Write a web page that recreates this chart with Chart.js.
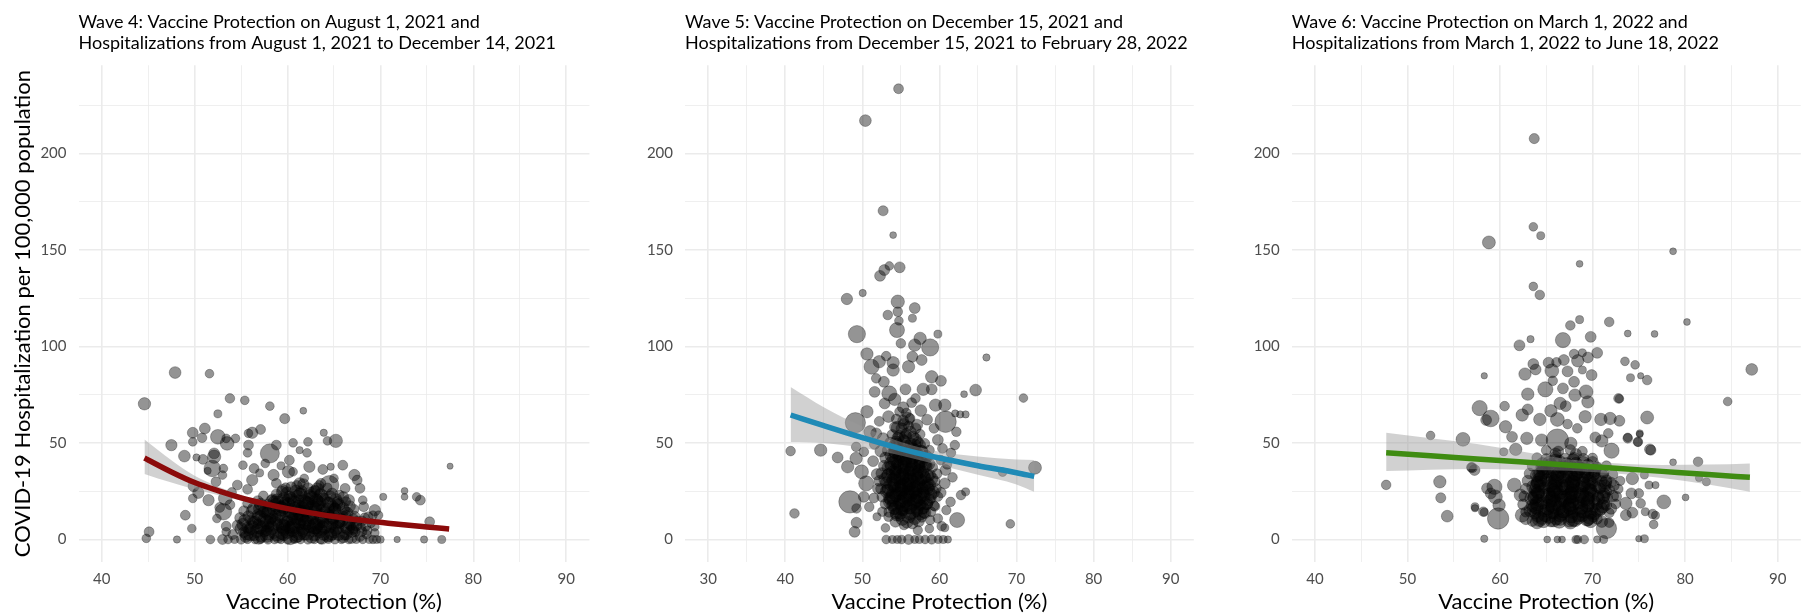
<!DOCTYPE html>
<html>
<head>
<meta charset="utf-8">
<title>Vaccine protection and COVID-19 hospitalizations</title>
<script src="https://cdn.jsdelivr.net/npm/chart.js@4.4.0/dist/chart.umd.min.js"></script>
<style>
  html, body { margin: 0; padding: 0; background: #fff; width: 1809px; height: 613px; overflow: hidden; }
  .panel { position: absolute; top: 0; }
</style>
</head>
<body>
<canvas id="wave4" class="panel" width="600" height="613" style="left:0px"></canvas>
<canvas id="wave5" class="panel" width="566" height="613" style="left:640px"></canvas>
<canvas id="wave6" class="panel" width="566" height="613" style="left:1247px"></canvas>

<script>
// Valeurs : [protection %, hospitalisations / 100 000, population (milliers)]

const wave4Title = ['Wave 4: Vaccine Protection on August 1, 2021 and',
  'Hospitalizations from August 1, 2021 to December 14, 2021'];
const wave5Title = ['Wave 5: Vaccine Protection on December 15, 2021 and',
  'Hospitalizations from December 15, 2021 to February 28, 2022'];
const wave6Title = ['Wave 6: Vaccine Protection on March 1, 2022 and',
  'Hospitalizations from March 1, 2022 to June 18, 2022'];

const xTitle = 'Vaccine Protection (%)';
const yTitle = 'COVID-19 Hospitalization per 100,000 population';

const xTicks4 = [40, 45, 50, 55, 60, 65, 70, 75, 80, 85, 90];
const xTicks5 = [30, 35, 40, 45, 50, 55, 60, 65, 70, 75, 80, 85, 90];
const xTicks6 = [40, 45, 50, 55, 60, 65, 70, 75, 80, 85, 90];
const yTicks = [0, 25, 50, 75, 100, 125, 150, 175, 200, 225];

const wave4Points = [
  [44.6,70.3,25],[47.9,86.5,22],[51.6,85.9,10],[53.8,73.1,13],[55.4,72.1,10],[52.5,65.1,8],[58.1,69.1,10],[59.7,62.6,15],[61.7,66.7,5],
  [47.5,48.9,20],[48.9,43.2,22],[49.8,55.3,18],[51.1,57.5,18],[52.5,53.2,38],[50.8,52.7,13],[49.8,50.6,10],[53.5,49.8,32],[53.4,52.4,10],[54.4,52.4,10],
  [50.2,42.5,6],[50.9,41.5,14],[52.1,44.6,18],[52.1,42.9,30],[51.9,36.8,50],[53.1,36.8,10],[51.4,35.6,6],[53.0,33.4,10],[52.3,29.9,14],[49.9,27.7,20],
  [50.4,24.2,20],[49.8,21.3,10],[51.5,20.4,20],[52.7,16.6,14],[53.1,14.4,50],[53.3,21.3,32],[49.0,12.6,14],[52.4,10.9,10],[49.7,5.7,10],[45.1,4.0,14],
  [44.8,0.6,10],[48.1,0,6],[51.7,0,10],[53.0,0,14],[53.4,6.9,14],[53.4,4.0,10],
  [55.8,55.0,10],[56.2,55.3,20],[57.1,57.0,14],[58.1,44.6,70],[58.8,48.9,14],[55.8,48.9,14],[55.7,44.9,10],[60.6,50.1,10],[61.3,46.3,6],[62.1,44.9,10],
  [62.2,50.6,10],[63.9,55.3,6],[64.3,51.1,10],[65.2,51.1,30],[60.2,41.1,14],[60.1,35.1,25],[62.35,37.7,20],[63.8,36.3,14],[64.65,37.7,6],[65.95,38.5,14],
  [67.2,33.4,20],[67.5,30.8,14],[67.8,26.5,14],[64.5,28.2,70],[65.0,31.7,10],[61.8,31.7,10],
  [70.3,22.1,6],[72.6,22.1,5],[72.6,25.2,5],[73.9,22.1,10],[74.3,20.4,14],[75.3,9.2,14],[77.5,38.0,3.5],[76.6,0,8],[74.7,0,6],[71.8,0,4],
  [69.4,15.2,20],[69.2,12.6,10],[69.8,12.6,10],[68.7,11.8,14],[68.2,17.0,14],[68.1,20.4,10],[69.4,6.6,10],
  [55.2,38.5,10],[56.4,36.8,14],[57.6,39.4,10],[58.5,33.4,20],[56.2,30.8,20],[58.8,29.1,14],[54.6,28.2,14],[55.7,26.0,14],[59.5,25.6,20],
  [60.6,35.1,10],[61.3,29.1,20],[63.6,29.1,14],[66.2,26.5,14],[66.6,20.4,20],[57.0,34.5,8],[59.3,38.2,8],[54.0,24.5,12],[53.8,18.0,14],
  [53.6,0,10],[54.3,0,8],[55.0,0,12],[55.7,0,9],[56.5,0,10],[57.1,0,8],[57.9,0,12],[58.6,0,10],[59.3,0,9],[60.0,0,12],[60.7,0,8],[61.4,0,10],
  [62.2,0,12],[62.9,0,9],[63.6,0,10],[64.4,0,8],[65.1,0,11],[65.8,0,9],[66.6,0,10],[67.4,0,8],[68.1,0,9],[68.8,0,8],[69.2,0,9],[69.6,0,8],[70.0,0,7],
  [54.1,2.6,14],[55.3,3.8,18],[56.4,2.1,16],[57.5,4.3,20],[58.5,3.0,15],[59.6,2.4,22],[60.7,3.9,18],[61.8,2.8,25],[62.8,4.1,16],[63.9,2.5,20],
  [65.0,3.6,18],[66.1,2.2,15],[67.3,4.0,14],[68.5,2.7,12],[69.4,3.4,10],
  [54.6,7.4,16],[55.7,6.2,20],[56.8,8.1,14],[57.9,6.8,22],[59.0,7.5,18],[60.2,6.4,25],[61.3,8.0,20],[62.4,6.9,28],[63.4,7.7,18],[64.6,6.5,22],
  [65.7,8.2,16],[66.8,7.0,14],[67.9,6.3,12],[69.0,8.4,10],
  [54.9,11.2,18],[56.0,10.3,14],[57.1,12.0,22],[58.2,10.6,18],[59.3,11.8,25],[60.5,10.2,20],[61.6,12.3,28],[62.7,10.9,22],[63.7,11.6,25],
  [64.9,10.4,18],[66.0,12.1,16],[67.1,10.8,14],[68.3,11.4,12],
  [55.3,14.8,16],[56.3,16.0,20],[57.4,14.3,18],[58.5,15.6,25],[59.7,14.6,20],[60.8,16.2,30],[61.9,14.9,22],[63.0,15.8,25],[64.0,14.4,18],
  [65.1,16.1,20],[66.2,15.0,14],[67.2,15.7,12],
  [55.7,18.7,14],[56.8,19.9,18],[57.9,18.2,16],[59.0,19.6,20],[60.1,18.4,25],[61.2,20.1,22],[62.2,18.9,28],[63.2,20.3,20],[64.3,19.1,22],
  [65.4,18.5,16],[66.3,19.8,12],
  [57.4,22.6,14],[58.8,23.5,16],[60.2,22.3,20],[61.3,24.0,18],[62.4,22.8,22],[63.5,23.9,16],[64.6,22.5,18],[65.6,23.2,12],
  [59.8,26.8,14],[61.0,27.9,16],[62.2,26.5,20],[63.4,28.0,14],[64.3,26.9,12],
  [55.5,1.4,20],[57.2,1.8,25],[59.0,1.2,22],[60.9,1.6,30],[62.6,1.3,25],[64.3,1.7,22],[66.0,1.1,18],[67.8,1.5,14],
  [55.9,5.0,22],[57.7,4.7,18],[59.6,5.3,28],[61.6,4.8,25],[63.3,5.4,30],[65.2,4.9,20],[67.0,5.2,16],[68.6,4.6,12],
  [56.3,9.1,20],[58.1,8.7,25],[60.0,9.3,22],[61.9,8.8,30],[63.8,9.2,25],[65.6,8.9,18],[67.5,9.4,14],
  [56.8,12.9,18],[58.7,12.4,22],[60.6,13.1,28],[62.5,12.6,25],[64.4,13.0,20],[66.3,12.5,16],
  [57.4,17.1,20],[59.3,16.8,22],[61.2,17.4,25],[63.1,16.9,22],[64.9,17.3,18],
  [58.4,21.0,16],[60.4,21.4,20],[62.3,20.8,22],[64.0,21.3,16],
  [61.5,25.2,18],[63.0,25.6,14],
  [56.0,2.8,30],[57.8,2.2,35],[59.4,3.4,30],[61.1,2.6,40],[62.9,3.0,35],[64.6,2.4,30],[66.3,3.1,25],
  [55.4,9.8,25],[57.0,6.5,35],[58.8,10.2,30],[60.6,7.0,40],[62.3,10.5,35],[64.0,6.8,35],[65.8,10.0,30],[67.4,7.3,20],
  [56.2,14.6,25],[57.9,13.5,30],[59.6,16.9,35],[61.4,13.8,40],[63.2,17.5,35],[65.0,14.0,30],[66.7,17.2,20],
  [58.3,19.8,25],[60.0,23.8,30],[61.8,19.6,35],[63.6,22.9,30],[65.2,20.6,25],
  [61.7,28.6,20],[63.2,26.2,25],[60.4,27.1,18],
  [55.0,5.5,25],[56.7,4.4,30],[58.3,6.0,35],[60.0,4.2,35],[61.7,6.4,40],[63.5,4.6,35],[65.3,6.1,30],[66.9,4.3,25],[68.4,6.9,15],
  [55.8,12.0,20],[57.5,10.1,30],[59.1,13.4,30],[60.9,11.4,35],[62.8,13.9,35],[64.6,11.1,30],[66.4,13.6,25],[68.0,9.6,15],
  [57.1,18.2,25],[58.9,20.5,25],[60.7,18.9,35],[62.6,21.5,30],[64.5,18.4,30],[66.0,22.0,18],
  [59.4,24.6,20],[62.9,24.8,22],[61.1,22.1,30],
  [55.6,3.2,30],[57.3,5.8,35],[58.9,2.9,35],[60.5,5.6,40],[62.1,3.5,40],[63.8,5.9,35],[65.5,3.0,30],[67.1,6.1,20],
  [56.5,8.6,30],[58.2,11.8,35],[59.9,8.1,40],[61.5,11.0,40],[63.2,8.4,40],[64.9,11.7,35],[66.6,8.8,25],
  [57.0,15.9,25],[58.7,17.8,30],[60.3,15.0,35],[62.0,16.8,35],[63.8,14.9,35],[65.5,17.9,25],
  [59.6,21.2,25],[61.4,23.2,30],[63.1,20.3,30],[64.8,23.7,20],
  [55.2,7.8,25],[57.8,8.9,35],[59.5,6.9,35],[61.2,9.6,40],[62.9,6.6,40],[64.7,8.6,35],[66.3,6.4,25],[68.0,4.1,15],
  [58.0,15.3,30],[59.8,18.7,30],[61.6,16.0,35],[63.4,19.0,30],[65.1,15.6,25],
  [56.9,1.0,30],[60.3,1.0,35],[63.7,1.0,30],[66.9,1.0,22],
  [56.2,6.0,35],[57.9,3.6,40],[59.6,6.4,40],[61.3,4.0,45],[63.0,6.9,45],[64.8,3.7,40],[66.5,5.8,30],
  [56.9,10.9,35],[58.6,8.1,40],[60.3,11.6,45],[62.0,8.9,45],[63.7,12.0,40],[65.4,9.4,35],[67.2,11.8,20],
  [57.6,14.8,30],[59.3,15.9,40],[61.0,14.2,45],[62.7,16.4,40],[64.3,15.2,35],[66.0,16.0,25],
  [58.6,19.2,30],[60.2,20.2,35],[62.0,18.5,40],[63.8,20.7,30],[65.4,19.4,20],
  [60.9,25.0,25],[62.5,23.9,25]
];

const wave5Points = [
  [54.7,233.5,14],[50.4,217.0,22],[52.7,170.3,15],[54.0,157.7,5],[52.3,136.6,18],[52.85,139.6,18],[53.5,141.7,10],[54.85,141.0,18],[48.0,124.6,20],
  [50.05,127.7,6],[54.6,123.2,30],[54.6,118.0,13],[56.8,119.9,18],[53.3,116.3,13],[56.5,114.6,8],[54.75,113.3,10],[54.5,108.5,40],[49.3,106.4,55],
  [59.8,106.4,8],[55.0,101.6,13],[57.5,104.2,25],[58.8,99.5,55],[56.8,100.7,25],[66.1,94.3,6],[64.7,77.4,22],[63.2,75.3,5],[70.9,73.3,10],
  [62.05,65.3,6],[62.7,64.8,6],[63.4,64.8,6],
  [50.6,96.1,25],[51.2,89.5,40],[52.2,92.1,25],[54.0,91.6,25],[56.0,89.5,25],[53.1,95.0,13],[56.5,94.7,18],[57.7,93.0,18],[51.8,83.5,13],
  [52.8,81.7,18],[54.0,87.8,25],[59.0,84.3,25],[60.2,82.2,18],[57.9,77.8,25],[59.0,77.8,18],[55.6,77.8,18],[51.6,76.5,18],[53.5,75.7,40],
  [56.9,73.1,13],[59.5,69.6,25],[60.7,69.6,25],
  [60.8,61.0,90],[49.1,60.5,80],[50.6,66.2,25],[51.0,55.8,25],[51.8,55.0,18],[62.2,55.8,13],[62.0,48.9,13],[61.5,44.9,13],
  [40.7,45.8,13],[44.6,46.3,25],[46.8,42.5,18],[49.2,48.0,13],[50.2,45.4,13],[49.2,42.0,25],[48.1,37.7,25],[49.9,35.1,33],[50.5,29.1,40],
  [48.4,19.5,100],[49.25,16.1,13],[50.2,22.1,18],[50.9,16.9,13],[51.9,11.8,8],[52.6,14.4,13],[49.25,8.7,18],[49.0,4.0,18],[41.2,13.5,13],
  [62.3,10.1,40],[62.8,23.0,13],[63.4,24.7,8],[61.45,19.5,13],[61.7,32.2,13],[60.8,36.0,18],[60.2,41.1,13],[60.7,29.1,18],[59.8,10.9,13],
  [60.3,6.9,13],[58.8,10.1,13],[57.7,11.4,13],[56.5,8.3,18],[55.4,7.5,13],[54.3,9.2,18],[53.4,11.8,13],[54.85,11.8,13],[69.2,8.1,10],
  [68.2,34.9,10],[72.4,37.2,28],[60.7,6.1,8],
  [53.1,0,10],[53.9,0,8],[54.55,0,8],[55.1,0,10],[56.0,0,14],[56.8,0,8],[57.4,0,8],[58.15,0,10],[59.0,0,12],[59.85,0,8],[60.5,0,8],[61.1,0,6],
  [52.9,70.5,18],[54.2,72.6,25],[55.3,68.4,20],[56.4,70.9,14],[57.6,66.8,22],[58.4,62.1,18],[53.4,63.7,22],[55.9,62.5,28],[57.1,59.4,20],
  [52.2,61.2,14],[54.6,57.8,30],[59.3,57.6,14],[52.7,52.4,20],[59.8,51.6,18],[51.6,49.4,16],[60.4,47.2,14],[51.4,40.6,18],[51.9,33.8,20],
  [52.0,26.4,16],[51.5,21.5,14],[60.2,24.3,16],[59.4,17.2,14],[52.4,45.8,22],[61.0,38.8,12],[60.9,15.2,12],[53.0,6.0,10],[57.2,4.8,12],[58.7,5.6,10],
  [53.5,14.3,18],[54.4,13.6,22],[55.3,14.8,16],[56.2,13.2,25],[57.1,14.6,20],[58.0,13.9,18],[58.9,14.4,14],
  [53.0,18.4,16],[53.9,17.6,20],[54.8,18.9,25],[55.7,17.3,22],[56.6,18.6,28],[57.5,17.9,20],[58.4,18.3,18],[59.3,17.5,14],
  [52.6,22.2,18],[53.5,21.5,22],[54.4,22.8,28],[55.3,21.4,25],[56.2,22.6,30],[57.1,21.8,22],[58.0,22.9,25],[58.9,21.6,18],[59.8,22.3,14],
  [52.4,26.3,16],[53.3,25.6,25],[54.2,26.9,22],[55.1,25.4,30],[56.0,26.7,28],[56.9,25.8,25],[57.8,26.5,22],[58.7,25.7,20],[59.6,26.4,14],
  [52.2,30.4,18],[53.1,29.5,22],[54.0,30.9,28],[54.9,29.6,25],[55.8,30.6,35],[56.7,29.8,25],[57.6,30.8,22],[58.5,29.4,20],[59.4,30.2,16],
  [52.5,34.3,20],[53.4,33.6,25],[54.3,34.8,22],[55.2,33.5,30],[56.1,34.7,25],[57.0,33.8,28],[57.9,34.9,20],[58.8,33.4,18],[59.7,34.1,14],
  [52.8,38.2,18],[53.7,37.6,22],[54.6,38.9,25],[55.5,37.4,28],[56.4,38.6,22],[57.3,37.8,25],[58.2,38.8,18],[59.1,37.5,16],
  [53.0,42.4,20],[53.9,41.6,18],[54.8,42.8,25],[55.7,41.5,22],[56.6,42.7,28],[57.5,41.8,20],[58.4,42.3,16],
  [53.3,46.2,18],[54.2,45.5,25],[55.1,46.8,22],[56.0,45.4,30],[56.9,46.6,20],[57.8,45.8,18],[58.7,46.3,14],
  [53.6,50.3,16],[54.5,49.5,22],[55.4,50.8,25],[56.3,49.6,20],[57.2,50.5,18],[58.1,49.8,14],
  [53.9,54.2,18],[54.8,53.6,22],[55.7,54.9,16],[56.6,53.4,20],[57.5,54.5,14],
  [54.2,58.3,16],[55.1,57.5,20],[56.0,58.8,14],[56.9,57.6,18],
  [54.4,62.4,14],[55.3,61.6,18],[56.2,62.7,14],[54.8,66.2,12],[55.7,65.5,14],
  [54.1,16.0,22],[55.1,15.7,25],[56.1,16.3,20],[57.1,15.9,25],[58.0,16.2,18],
  [54.0,20.1,25],[55.0,19.8,28],[56.0,20.4,25],[57.0,20.0,30],[58.0,20.3,20],
  [53.9,24.2,22],[54.9,23.8,30],[55.9,24.4,28],[56.9,24.0,25],[57.9,24.3,22],
  [54.1,28.1,25],[55.1,27.8,28],[56.1,28.3,30],[57.1,27.9,25],[58.1,28.2,20],
  [54.2,32.2,22],[55.2,31.8,30],[56.2,32.3,25],[57.2,31.9,28],[58.2,32.1,18],
  [54.3,36.1,25],[55.3,35.8,22],[56.3,36.3,28],[57.3,35.9,20],
  [54.4,40.2,20],[55.4,39.8,25],[56.4,40.3,22],[57.4,39.9,18],
  [54.6,44.1,18],[55.6,43.9,22],[56.6,44.3,20],
  [54.5,13.0,30],[56.0,12.2,35],[57.5,13.5,30],
  [53.6,19.5,30],[55.2,18.2,40],[56.8,19.8,40],[58.3,18.9,30],
  [53.2,25.0,30],[54.8,26.2,40],[56.4,25.1,45],[58.0,26.8,35],[59.2,24.5,25],
  [53.0,31.2,30],[54.6,32.8,40],[56.2,30.2,45],[57.8,32.6,40],[59.0,31.5,25],
  [53.4,37.0,30],[55.0,38.1,40],[56.6,36.8,40],[58.2,38.3,30],
  [53.8,43.6,30],[55.4,42.2,35],[57.0,44.1,35],[58.3,43.2,22],
  [54.1,48.4,25],[55.8,48.0,30],[57.4,48.9,25],
  [54.6,52.6,22],[56.2,55.6,25],[55.4,59.8,20],
  [55.2,10.5,25],[56.8,10.9,25],
  [54.4,16.4,35],[56.1,17.0,40],[57.7,16.6,35],
  [54.0,22.3,40],[55.7,23.0,45],[57.4,22.5,40],[58.9,23.4,25],
  [53.8,28.6,35],[55.5,28.0,45],[57.2,28.9,40],[58.7,28.2,25],
  [54.0,34.6,35],[55.7,34.0,45],[57.4,35.2,35],
  [54.3,40.3,35],[56.0,40.8,40],[57.6,40.0,30],
  [54.9,46.0,30],[56.5,46.8,30],
  [55.3,51.4,25],[56.9,52.0,22],
  [54.9,14.2,35],[56.6,14.6,35],[58.1,14.0,25],
  [53.8,20.8,35],[55.5,20.5,45],[57.2,21.3,45],[58.6,20.6,25],
  [53.5,26.8,35],[55.2,26.5,45],[56.9,26.1,50],[58.4,27.0,30],
  [53.4,33.0,35],[55.1,32.6,45],[56.8,33.4,45],[58.4,33.0,30],
  [53.8,39.3,35],[55.5,39.0,40],[57.2,39.6,40],[58.6,39.2,25],
  [54.3,45.2,30],[56.0,44.6,35],[57.6,45.5,30],
  [55.6,53.3,25],[56.8,49.0,25],[54.4,50.8,20],
  [55.8,8.9,22],[57.3,9.6,22]
];

const wave6Points = [
  [63.7,207.7,15],[63.6,162.0,10],[64.4,157.4,8],[58.8,153.9,28],[78.7,149.3,5],[68.6,142.8,5],[63.6,131.1,10],[64.3,126.7,13],[68.6,113.9,8],
  [67.6,110.9,13],[71.8,112.7,13],[80.2,112.7,5],[63.3,103.8,6],[66.8,103.3,41],[69.8,105.0,18],[73.8,106.7,5],[76.7,106.5,5],[62.1,100.6,18],
  [87.2,88.1,22],[84.6,71.5,10],[72.9,72.9,10],[75.9,63.2,28],[75.9,82.6,13],[74.6,90.5,10],[73.5,92.3,10],[74.1,83.8,8],[75.2,84.8,4],
  [58.3,84.8,4],[57.8,68.1,41],[59.0,62.7,51],[58.5,61.9,18],[52.5,53.9,10],[56.0,51.9,33],[47.7,28.3,13],[53.5,29.9,25],[53.6,21.6,15],
  [54.3,12.1,22],[57.3,16.2,6],[58.3,14.1,8],[59.8,10.9,90],[57.0,37.2,15],[58.3,0.4,6],[76.3,46.3,15],[75.1,54.5,5],[73.8,52.9,10],
  [74.9,50.5,10],[78.7,40.0,5],[81.4,40.3,13],[81.5,31.9,6],[82.3,29.9,8],[80.05,21.8,5],[77.7,19.5,33],[76.6,7.8,10],[76.8,12.5,8],
  [75.6,0.4,8],[75.0,0.4,4],
  [65.1,0,5],[66.2,0,5],[66.7,0,5],[68.2,0,8],[68.4,0,8],[69.1,0,10],[70.5,0,6],[71.2,0,8],
  [62.7,85.7,25],[63.6,90.9,18],[63.85,88.1,18],[65.25,91.6,18],[66.1,91.8,13],[66.9,93.0,18],[68.0,96.1,13],[68.4,92.6,25],[69.5,94.3,18],
  [70.5,96.7,18],[68.9,96.7,8],[69.9,85.2,18],[65.6,87.4,33],[67.3,87.1,18],[68.9,87.8,8],[64.9,77.8,41],[63.0,75.3,25],[65.7,82.2,13],
  [66.8,78.3,18],[68.0,81.7,18],[68.1,74.8,25],[69.3,76.5,33],[69.5,71.3,25],[67.1,69.1,18],[66.5,70.5,25],[60.5,69.1,13],[62.4,64.5,25],
  [63.0,67.4,18],[64.3,62.2,25],[65.5,66.7,25],[66.2,62.2,33],[67.3,59.8,13],[68.35,57.6,13],[69.2,63.6,25],[70.9,62.2,25],[71.9,62.7,25],
  [72.9,61.5,18],[72.8,73.1,13],[73.8,52.4,13],[74.9,50.6,13],[75.1,55.0,6],[76.2,46.7,18],[72.05,46.0,41],[71.0,51.1,25],[70.3,52.9,18],
  [71.7,55.0,13],[66.2,51.5,100],[67.65,49.8,25],[64.5,51.5,25],[62.9,52.4,25],[61.3,53.2,18],[60.6,58.4,25],[61.7,46.7,25],[60.4,45.4,8],
  [56.9,37.4,13],[57.25,36.0,18],[57.3,17.0,8],[58.2,14.4,13],[59.4,27.3,41],[59.5,22.1,33],[59.9,17.8,25],[59.0,23.9,18],[58.6,26.5,18],
  [75.2,18.7,13],[75.0,23.9,13],[76.1,28.2,8],[76.8,28.2,6],[75.6,33.4,8],[74.3,31.6,25],[74.2,23.9,18],[73.6,18.7,25],[74.3,13.9,18],
  [71.5,5.7,80],[71.8,8.7,13],[73.6,12.6,18],[62.2,23.0,25],[62.4,12.6,33],[62.8,10.9,25],[61.55,28.2,33],[76.5,13.2,13],[75.7,14.4,8],
  [63.5,9.6,18],[64.5,10.8,22],[65.5,9.2,16],[66.5,10.5,25],[67.5,9.4,20],[68.5,10.9,22],[69.5,9.8,18],[70.5,10.6,16],
  [62.8,14.3,16],[63.8,13.6,22],[64.8,14.8,25],[65.8,13.4,20],[66.8,14.6,28],[67.8,13.9,22],[68.8,14.4,25],[69.8,13.5,20],[70.8,14.7,16],[71.8,13.8,14],
  [62.5,18.2,18],[63.5,17.6,25],[64.5,18.8,22],[65.5,17.4,28],[66.5,18.5,25],[67.5,17.8,30],[68.5,18.9,22],[69.5,17.5,25],[70.5,18.3,20],[71.5,17.7,16],[72.5,18.4,14],
  [62.6,22.4,16],[63.6,21.5,22],[64.6,22.8,28],[65.6,21.6,25],[66.6,22.7,30],[67.6,21.8,25],[68.6,22.6,28],[69.6,21.4,22],[70.6,22.5,20],[71.6,21.7,16],[72.6,22.3,14],
  [62.8,26.3,18],[63.8,25.6,25],[64.8,26.8,22],[65.8,25.4,30],[66.8,26.6,28],[67.8,25.7,25],[68.8,26.9,30],[69.8,25.6,22],[70.8,26.4,20],[71.8,25.8,16],[72.8,26.2,12],
  [63.0,30.4,20],[64.0,29.6,22],[65.0,30.8,28],[66.0,29.5,25],[67.0,30.6,30],[68.0,29.8,28],[69.0,30.7,25],[70.0,29.5,20],[71.0,30.3,18],[72.0,29.6,16],[73.0,30.4,12],
  [63.2,34.2,18],[64.2,33.5,25],[65.2,34.8,22],[66.2,33.6,28],[67.2,34.6,25],[68.2,33.7,30],[69.2,34.5,22],[70.2,33.8,20],[71.2,34.4,16],[72.2,33.6,14],
  [63.5,38.1,16],[64.5,37.6,22],[65.5,38.8,25],[66.5,37.4,22],[67.5,38.5,28],[68.5,37.8,20],[69.5,38.6,22],[70.5,37.5,16],[71.5,38.2,14],
  [64.0,42.3,16],[65.0,41.6,20],[66.0,42.7,22],[67.0,41.5,25],[68.0,42.4,18],[69.0,41.7,20],[70.0,42.2,14],
  [65.0,46.2,14],[66.3,45.6,18],[67.6,46.5,16],[68.9,45.7,14],
  [64.1,12.1,25],[65.3,11.8,30],[66.5,12.3,25],[67.7,11.9,28],[68.9,12.2,22],[70.1,11.8,18],
  [64.0,16.1,28],[65.2,15.8,25],[66.4,16.3,30],[67.6,15.9,28],[68.8,16.2,25],[70.0,15.8,20],
  [64.2,20.2,25],[65.4,19.8,30],[66.6,20.3,28],[67.8,19.9,30],[69.0,20.2,25],[70.2,19.8,20],
  [64.1,24.1,28],[65.3,23.8,25],[66.5,24.3,30],[67.7,23.9,28],[68.9,24.2,25],[70.1,23.8,18],
  [64.3,28.2,22],[65.5,27.8,28],[66.7,28.3,25],[67.9,27.9,30],[69.1,28.2,22],[70.3,27.8,18],
  [64.4,32.1,25],[65.6,31.8,22],[66.8,32.3,28],[68.0,31.9,25],[69.2,32.2,20],[70.4,31.8,16],
  [64.6,36.1,20],[65.8,35.8,25],[67.0,36.3,22],[68.2,35.9,25],[69.4,36.1,18],
  [64.0,9.0,30],[65.8,10.2,35],[67.6,9.1,35],[69.4,10.4,30],[71.0,9.3,22],
  [63.3,15.2,30],[65.1,16.8,40],[66.9,15.1,40],[68.7,16.9,40],[70.5,15.3,30],[72.0,16.0,20],
  [63.4,21.2,30],[65.2,22.6,40],[67.0,21.0,45],[68.8,22.8,40],[70.6,21.1,30],[72.2,22.5,20],
  [63.6,27.3,30],[65.4,28.8,40],[67.2,27.0,45],[69.0,28.6,40],[70.8,27.4,30],[72.3,28.0,18],
  [64.0,33.2,30],[65.8,34.6,35],[67.6,33.0,40],[69.4,34.7,35],[71.0,33.4,25],
  [64.6,39.3,25],[66.4,40.2,30],[68.2,39.1,30],[70.0,40.0,22],
  [64.9,12.8,35],[66.7,13.6,35],[68.5,12.9,35],[70.2,13.5,25],
  [64.0,18.6,35],[65.9,19.1,40],[67.7,18.6,45],[69.5,19.3,35],[71.2,18.8,25],
  [64.1,24.9,35],[66.0,25.4,45],[67.9,24.8,45],[69.7,25.3,35],[71.4,24.8,25],
  [64.3,30.8,35],[66.1,31.2,40],[67.9,30.7,40],[69.7,31.3,30],[71.5,30.6,20],
  [65.1,36.9,30],[66.9,37.4,30],[68.7,36.8,30],[70.4,37.2,20],
  [64.7,9.8,35],[66.4,9.5,35],[68.1,10.3,35],[69.8,9.6,30],
  [63.7,15.8,35],[65.6,14.7,40],[67.3,16.4,45],[69.1,14.8,40],[70.9,16.2,30],
  [63.8,21.9,35],[65.7,21.0,45],[67.5,22.3,45],[69.3,21.4,40],[71.1,22.0,30],
  [64.0,27.9,35],[65.9,26.9,45],[67.7,28.2,45],[69.5,27.2,40],[71.3,27.8,25],
  [64.5,33.9,35],[66.3,33.1,40],[68.2,34.2,40],[70.0,33.5,30],
  [65.3,39.7,30],[67.2,39.0,30],[69.0,39.8,25],
  [66.0,44.5,20],[68.2,44.2,20],
  [64.3,10.6,40],[66.1,11.4,40],[67.9,10.7,40],[69.7,11.5,35],
  [63.9,17.1,40],[65.8,17.6,45],[67.6,17.2,50],[69.4,17.8,40],[71.1,17.2,30],
  [64.0,23.0,40],[65.9,23.4,50],[67.7,23.0,50],[69.5,23.5,45],[71.2,23.2,30],
  [64.2,29.3,40],[66.0,29.7,45],[67.8,29.2,45],[69.6,29.8,40],[71.4,29.3,25],
  [64.7,35.2,35],[66.6,35.6,40],[68.4,35.3,35],[70.2,35.5,25],
  [66.0,41.1,25],[67.9,41.3,25]
];

// Courbes ajustées et intervalles de confiance
const wave4FitX  = [44.6, 47.5, 50, 52.5, 55, 57.5, 60, 62.5, 65, 67.5, 70, 72.5, 75, 77.4];
const wave4Fit   = [42.2, 35.0, 29.5, 25.3, 21.6, 18.6, 16.0, 13.8, 11.9, 10.2, 8.9, 7.6, 6.5, 5.5];
const wave4Upper = [51.8, 41.0, 33.0, 27.5, 23.0, 19.5, 16.8, 14.6, 12.6, 11.0, 9.6, 8.4, 7.4, 6.6];
const wave4Lower = [34.0, 29.5, 26.0, 23.0, 20.2, 17.7, 15.2, 13.1, 11.2, 9.5, 8.2, 6.8, 5.6, 4.6];

const wave5FitX  = [40.7, 45, 50, 55, 60, 65, 70, 72.3];
const wave5Fit   = [64.5, 59.0, 52.8, 47.0, 42.2, 38.2, 34.6, 32.7];
const wave5Upper = [79.0, 68.5, 58.5, 50.5, 45.5, 43.0, 41.5, 41.2];
const wave5Lower = [50.5, 50.0, 47.5, 43.5, 38.5, 33.5, 28.5, 24.7];

const wave6FitX  = [47.7, 52.5, 57.5, 62.5, 67.5, 72.5, 77.5, 82.5, 87.0];
const wave6Fit   = [44.9, 43.4, 41.7, 40.1, 38.5, 36.9, 35.3, 33.7, 32.2];
const wave6Upper = [55.3, 52.5, 49.5, 45.5, 41.5, 39.5, 38.6, 38.8, 39.4];
const wave6Lower = [35.5, 36.2, 36.5, 36.2, 35.6, 34.2, 31.9, 28.5, 24.8];

const FONT = 'Lato';
const yMin = -11.7, yMax = 245.7;

function toXY(xs, ys) {
  return xs.map((x, i) => ({ x: x, y: ys[i] }));
}

// rayon de la bulle selon la population
function bubbleRadius(pop) {
  return 1.2 + Math.sqrt(pop);
}

function makePanel(id, cfg) {
  const canvas = document.getElementById(id);
  if (!canvas) {
    console.warn('canvas introuvable', id);
    return;
  }

  const bubbles = cfg.points.map(p => ({ x: p[0], y: p[1], r: bubbleRadius(p[2]) }));

  const curve = {
    pointRadius: 0,
    pointHoverRadius: 0,
    cubicInterpolationMode: 'monotone'
  };

  return new Chart(canvas, {
    type: 'scatter',
    data: {
      datasets: [
        Object.assign({
          type: 'line',
          data: toXY(cfg.fitX, cfg.fit),
          borderColor: cfg.color,
          borderWidth: 5.5,
          borderCapStyle: 'butt',
          fill: false,
          order: 0
        }, curve),
        Object.assign({
          type: 'line',
          data: toXY(cfg.fitX, cfg.upper),
          borderWidth: 0,
          borderColor: 'rgba(0,0,0,0)',
          backgroundColor: 'rgba(153,153,153,0.45)',
          fill: '+1',
          order: 1
        }, curve),
        Object.assign({
          type: 'line',
          data: toXY(cfg.fitX, cfg.lower),
          borderWidth: 0,
          borderColor: 'rgba(0,0,0,0)',
          fill: false,
          order: 1
        }, curve),
        {
          type: 'bubble',
          data: bubbles,
          backgroundColor: 'rgba(0,0,0,0.42)',
          borderColor: 'rgba(0,0,0,0.28)',
          borderWidth: 1,
          hoverRadius: 0,
          order: 2
        }
      ]
    },
    options: {
      responsive: false,
      animation: false,
      events: [],
      layout: { padding: { left: 0, right: cfg.padRight, top: 0, bottom: 0 } },
      plugins: {
        legend: { display: false },
        tooltip: { enabled: false },
        title: {
          display: true,
          text: cfg.title,
          align: 'start',
          fullSize: false,
          color: '#000',
          font: { family: FONT, size: 18, weight: 'normal', lineHeight: 1.145 },
          padding: { top: 12, bottom: 12 }
        }
      },
      scales: {
        x: {
          type: 'linear',
          min: cfg.xMin,
          max: cfg.xMax,
          afterBuildTicks: s => { s.ticks = cfg.xTicks.map(v => ({ value: v })); },
          afterFit: s => { s.height = 50.9; },
          border: { display: false },
          grid: {
            drawTicks: false,
            color: '#ebebeb',
            lineWidth: ctx => (ctx.tick && ctx.tick.value % 10 === 0) ? 1.6 : 0.8
          },
          ticks: {
            autoSkip: false,
            maxRotation: 0,
            padding: 8,
            color: '#4d4d4d',
            font: { family: FONT, size: 15 },
            callback: v => (v % 10 === 0 ? String(v) : '')
          },
          title: {
            display: true,
            text: xTitle,
            color: '#000',
            font: { family: FONT, size: 22, lineHeight: 1 },
            padding: { top: 0, bottom: 0 }
          }
        },
        y: {
          type: 'linear',
          min: yMin,
          max: yMax,
          afterBuildTicks: s => { s.ticks = yTicks.map(v => ({ value: v })); },
          afterFit: s => { s.width = cfg.yAxisWidth; },
          border: { display: false },
          grid: {
            drawTicks: false,
            color: '#ebebeb',
            lineWidth: ctx => (ctx.tick && ctx.tick.value % 50 === 0) ? 1.6 : 0.8
          },
          ticks: {
            autoSkip: false,
            padding: 12,
            color: '#4d4d4d',
            font: { family: FONT, size: 15 },
            callback: v => (v % 50 === 0 ? String(v) : '')
          },
          title: {
            display: cfg.showYTitle,
            text: yTitle,
            color: '#000',
            font: { family: FONT, size: 22, lineHeight: 1 },
            padding: { top: 12, bottom: 0 }
          }
        }
      }
    }
  });
}

makePanel('wave4', {
  title: wave4Title, points: wave4Points,
  fitX: wave4FitX, fit: wave4Fit, upper: wave4Upper, lower: wave4Lower,
  color: '#8b0a0a', xMin: 37.5, xMax: 92.5, xTicks: xTicks4,
  yAxisWidth: 78.5, padRight: 1.9, showYTitle: true
});

makePanel('wave5', {
  title: wave5Title, points: wave5Points,
  fitX: wave5FitX, fit: wave5Fit, upper: wave5Upper, lower: wave5Lower,
  color: '#1f8ab6', xMin: 27, xMax: 93, xTicks: xTicks5,
  yAxisWidth: 45, padRight: 1.7, showYTitle: false
});

makePanel('wave6', {
  title: wave6Title, points: wave6Points,
  fitX: wave6FitX, fit: wave6Fit, upper: wave6Upper, lower: wave6Lower,
  color: '#3f8c12', xMin: 37.5, xMax: 92.5, xTicks: xTicks6,
  yAxisWidth: 44.75, padRight: 1.3, showYTitle: false
});
</script>
</body>
</html>
